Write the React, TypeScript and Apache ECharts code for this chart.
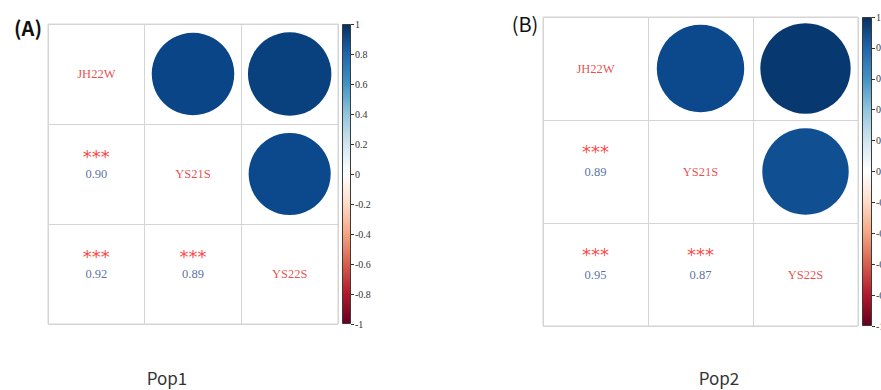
import React, { useEffect, useRef } from "react";
import * as echarts from "echarts";

const categories = ["JH22W", "YS21S", "YS22S"];
// pairs: (JH22W,YS21S), (JH22W,YS22S), (YS21S,YS22S)
const pairIndex = [
  [0, 1],
  [0, 2],
  [1, 2],
];
const pop1Values = [0.9, 0.92, 0.89];
const pop2Values = [0.89, 0.95, 0.87];
const pop1Signif = ["***", "***", "***"];
const pop2Signif = ["***", "***", "***"];
const panelLabels = ["(A)", "(B)"];
const popLabels = ["Pop1", "Pop2"];
const colorbarRange = [-1, 1];
const colorbarStep = 0.2;

const rdbu = [
  "#67001F", "#B2182B", "#D6604D", "#F4A582", "#FDDBC7", "#FFFFFF",
  "#D1E5F0", "#92C5DE", "#4393C3", "#2166AC", "#053061",
];
// circle fill scale for the strong positive range shown
const circleRange = [0.8, 1];
const circleColors = ["#2166AC", "#0a4588", "#032a57"];

const SERIF = "'Liberation Serif', 'DejaVu Serif', serif";
const SANS = "'Noto Sans CJK SC', 'Noto Sans', sans-serif";

type Panel = {
  left: number; top: number; width: number; height: number;
  barLeft: number; barWidth: number;
  values: number[]; signif: string[];
};

const panels: Panel[] = [
  { left: 48, top: 24, width: 290, height: 300, barLeft: 342, barWidth: 9, values: pop1Values, signif: pop1Signif },
  { left: 543, top: 17, width: 315, height: 309, barLeft: 862, barWidth: 10, values: pop2Values, signif: pop2Signif },
];

function buildOption() {
  const grid: any[] = [];
  const xAxis: any[] = [];
  const yAxis: any[] = [];
  const series: any[] = [];
  const circleSeries: number[] = [];
  const graphic: any[] = [];

  panels.forEach((p, pi) => {
    const gi = grid.length;
    grid.push({
      left: p.left, top: p.top, width: p.width, height: p.height,
      show: true, borderColor: "#d4d4d4", borderWidth: 1, backgroundColor: "#fff",
      outerBoundsMode: "none", containLabel: false,
    });
    xAxis.push({
      type: "category", gridIndex: gi, data: categories, boundaryGap: true,
      axisLine: { show: false }, axisTick: { show: false }, axisLabel: { show: false },
      splitLine: { show: true, interval: 0, lineStyle: { color: "#d4d4d4", width: 1 } },
    });
    yAxis.push({
      type: "category", gridIndex: gi, data: categories, inverse: true, boundaryGap: true,
      axisLine: { show: false }, axisTick: { show: false }, axisLabel: { show: false },
      splitLine: { show: true, interval: 0, lineStyle: { color: "#d4d4d4", width: 1 } },
    });
    const cell = Math.min(p.width, p.height) / categories.length;

    // circles in upper triangle
    circleSeries.push(series.length);
    series.push({
      type: "scatter", xAxisIndex: gi, yAxisIndex: gi, symbol: "circle",
      data: pairIndex.map(([i, j], k) => [j, i, p.values[k]]),
      symbolSize: (v: number[]) => 0.9 * cell * Math.sqrt(Math.abs(v[2])),
      itemStyle: { opacity: 1 },
      silent: true,
    });
    // diagonal labels
    series.push({
      type: "scatter", xAxisIndex: gi, yAxisIndex: gi, symbolSize: 0,
      data: categories.map((c, i) => ({ value: [i, i], name: c })),
      label: {
        show: true, position: "inside", formatter: (d: any) => d.name,
        color: "#e41d1d", fontFamily: SERIF, fontSize: 12.5,
      },
      silent: true,
    });
    // significance stars
    series.push({
      type: "scatter", xAxisIndex: gi, yAxisIndex: gi, symbolSize: 0,
      data: pairIndex.map(([i, j], k) => ({ value: [i, j], name: p.signif[k] })),
      label: {
        show: true, position: "inside", formatter: (d: any) => d.name,
        color: "#ff1010", fontFamily: "'DejaVu Sans', sans-serif", fontSize: 18,
        offset: [0, pi === 0 ? -18 : -20],
      },
      silent: true,
    });
    // correlation numbers
    series.push({
      type: "scatter", xAxisIndex: gi, yAxisIndex: gi, symbolSize: 0,
      data: pairIndex.map(([i, j], k) => ({ value: [i, j], name: p.values[k].toFixed(2) })),
      label: {
        show: true, position: "inside", formatter: (d: any) => d.name,
        color: "#2c4b8a", fontFamily: SERIF, fontSize: 12.5,
      },
      silent: true,
    });

    // colorbar
    const bi = grid.length;
    grid.push({
      left: p.barLeft, top: p.top, width: p.barWidth, height: p.height, show: false,
      outerBoundsMode: "none", containLabel: false,
    });
    xAxis.push({
      type: "category", gridIndex: bi, data: [""],
      axisLine: { show: false }, axisTick: { show: false }, axisLabel: { show: false },
    });
    yAxis.push({
      type: "value", gridIndex: bi, min: colorbarRange[0], max: colorbarRange[1], interval: colorbarStep,
      position: "right",
      axisLine: { show: false },
      axisTick: { show: true, length: 3, lineStyle: { color: "#333", width: 1 } },
      axisLabel: { show: true, margin: 4, color: "#333", fontFamily: SERIF, fontSize: 10,
        formatter: (v: number) => String(Math.round(v * 10) / 10) },
      splitLine: { show: false },
    });
    series.push({
      type: "custom", xAxisIndex: bi, yAxisIndex: bi, silent: true, z: 3,
      data: [[0, colorbarRange[0], colorbarRange[1]]],
      renderItem: (params: any, api: any) => {
        const top = api.coord([api.value(0), api.value(2)]);
        const bottom = api.coord([api.value(0), api.value(1)]);
        const w = api.size([1, 0])[0];
        return {
          type: "rect",
          shape: { x: top[0] - w / 2 + 0.5, y: top[1] + 0.5, width: w - 1, height: bottom[1] - top[1] - 1 },
          style: {
            fill: {
              type: "linear", x: 0, y: 0, x2: 0, y2: 1,
              colorStops: rdbu.slice().reverse().map((c, i) => ({ offset: i / (rdbu.length - 1), color: c })),
            },
            stroke: "#3a3a3a", lineWidth: 1,
          },
        };
      },
    });
  });

  graphic.push(
    { type: "text", x: 28, y: 27, style: { text: panelLabels[0], fontFamily: SANS, fontSize: 20, fontWeight: "bold", fill: "#111", textAlign: "center", textVerticalAlign: "middle" } },
    { type: "text", x: 525, y: 23, style: { text: panelLabels[1], fontFamily: SANS, fontSize: 20, fontWeight: "normal", fill: "#111", textAlign: "center", textVerticalAlign: "middle" } },
    { type: "text", x: 167, y: 377, style: { text: popLabels[0], fontFamily: SANS, fontSize: 17, fill: "#333", textAlign: "center", textVerticalAlign: "middle" } },
    { type: "text", x: 719, y: 377, style: { text: popLabels[1], fontFamily: SANS, fontSize: 17, fill: "#333", textAlign: "center", textVerticalAlign: "middle" } },
  );

  return {
    animation: false,
    backgroundColor: "#ffffff",
    grid, xAxis, yAxis, series, graphic,
    visualMap: {
      type: "continuous", show: false, min: circleRange[0], max: circleRange[1],
      dimension: 2, seriesIndex: circleSeries, inRange: { color: circleColors },
    },
  };
}

export default function App() {
  const ref = useRef<HTMLDivElement>(null);
  useEffect(() => {
    if (!ref.current) return;
    const chart = echarts.init(ref.current, undefined, { renderer: "svg" });
    chart.setOption(buildOption() as any);
    return () => chart.dispose();
  }, []);
  return (
    <div
      ref={ref}
      style={{ position: "fixed", left: 0, top: 0, width: 881, height: 390, background: "#fff" }}
    />
  );
}
